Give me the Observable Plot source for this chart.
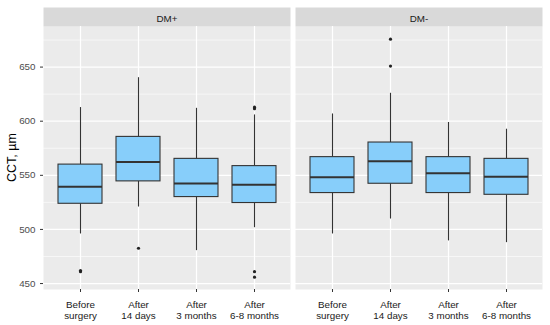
<!DOCTYPE html>
<html>
<head>
<meta charset="utf-8">
<script src="https://cdn.jsdelivr.net/npm/d3@7"></script>
<script src="https://cdn.jsdelivr.net/npm/@observablehq/plot@0.6"></script>
<style>
  html, body { margin: 0; padding: 0; background: white; }
</style>
</head>
<body>
<div id="chart"></div>
<script>
// ---- Data ----
const facets = ["DM+", "DM-"];
const categories = ["Before surgery", "After 14 days", "After 3 months", "After 6-8 months"];
const tickLabels = ["Before\nsurgery", "After\n14 days", "After\n3 months", "After\n6-8 months"];
const yTicks = [450, 500, 550, 600, 650];
const yMinorTicks = [475, 525, 575, 625, 675];

// Box statistics per facet, in category order
const dmPlusLow    = [495.8, 520.7, 480.4, 501.6];
const dmPlusQ1     = [523.7, 544.4, 529.9, 524.4];
const dmPlusMedian = [539.5, 562.4, 542.5, 541.2];
const dmPlusQ3     = [559.9, 585.5, 565.2, 558.5];
const dmPlusHigh   = [612.6, 640.2, 611.9, 605.8];

const dmMinusLow    = [495.8, 509.6, 489.4, 487.8];
const dmMinusQ1     = [533.6, 542.2, 533.6, 532.0];
const dmMinusMedian = [548.3, 563.1, 551.8, 548.6];
const dmMinusQ3     = [566.8, 580.3, 566.8, 565.2];
const dmMinusHigh   = [606.7, 625.8, 598.8, 592.6];

// Outliers: [facet, category index, value]
const outlierFacet = ["DM+", "DM+", "DM+", "DM+", "DM+", "DM+", "DM+", "DM-", "DM-"];
const outlierCat   = [0, 0, 1, 3, 3, 3, 3, 1, 1];
const outlierValue = [461, 462, 482.6, 611.5, 613, 461, 455.9, 675.8, 650.9];

// ---- Build tables ----
const boxes = [];
categories.forEach((c, i) => {
  boxes.push({facet: "DM+", cat: c, low: dmPlusLow[i], q1: dmPlusQ1[i], med: dmPlusMedian[i], q3: dmPlusQ3[i], high: dmPlusHigh[i]});
});
categories.forEach((c, i) => {
  boxes.push({facet: "DM-", cat: c, low: dmMinusLow[i], q1: dmMinusQ1[i], med: dmMinusMedian[i], q3: dmMinusQ3[i], high: dmMinusHigh[i]});
});
const outliers = outlierValue.map((v, i) => ({facet: outlierFacet[i], cat: categories[outlierCat[i]], value: v}));

const H = 325, mTop = 26, mBottom = 36;
const innerH = H - mTop - mBottom;

const chart = Plot.plot({
  width: 550,
  height: H,
  marginLeft: 43,
  marginRight: 8,
  marginTop: mTop,
  marginBottom: mBottom,
  style: {fontFamily: "Liberation Sans, Arial, sans-serif", background: "white", overflow: "visible"},
  fx: {domain: facets, paddingInner: 5 / 252, paddingOuter: 0, label: null},
  x: {domain: categories, paddingInner: 0.25, paddingOuter: 0.225, label: null},
  y: {domain: [444.5, 687.5], label: null},
  marks: [
    Plot.frame({fill: "#EBEBEB", stroke: null}),
    Plot.frame({fill: "#D9D9D9", stroke: null, insetTop: -19, insetBottom: innerH}),
    Plot.gridY(yMinorTicks, {stroke: "white", strokeOpacity: 1, strokeWidth: 0.6}),
    Plot.gridY(yTicks, {stroke: "white", strokeOpacity: 1, strokeWidth: 1.2}),
    Plot.gridX({stroke: "white", strokeOpacity: 1, strokeWidth: 1.2}),
    Plot.axisFx({anchor: "top", tickSize: 0, tickPadding: 5, fontSize: 9.8, fill: "#1A1A1A", label: null}),
    Plot.axisY(yTicks, {tickSize: 3, tickPadding: 5, fontSize: 9.8, fill: "#4D4D4D", stroke: "#333333", label: null}),
    Plot.axisX({tickSize: 3, tickPadding: 8, fontSize: 9.8, fill: "#1A1A1A", stroke: "#333333", lineHeight: 1.12,
                tickFormat: d => tickLabels[categories.indexOf(d)], label: null}),
    Plot.ruleX(boxes, {fx: "facet", x: "cat", y1: "low", y2: "q1", stroke: "#333333", strokeWidth: 1.1}),
    Plot.ruleX(boxes, {fx: "facet", x: "cat", y1: "q3", y2: "high", stroke: "#333333", strokeWidth: 1.1}),
    Plot.barY(boxes, {fx: "facet", x: "cat", y1: "q1", y2: "q3", fill: "#87CEFA", stroke: "#333333", strokeWidth: 1.1}),
    Plot.tickY(boxes, {fx: "facet", x: "cat", y: "med", stroke: "#333333", strokeWidth: 2}),
    Plot.dot(outliers, {fx: "facet", x: "cat", y: "value", r: 1.6, fill: "#222222", stroke: null})
  ]
});
document.getElementById("chart").appendChild(chart);

// y-axis title
const svg = d3.select(chart);
svg.append("text")
  .attr("transform", `translate(13, ${mTop + innerH / 2}) rotate(-90)`)
  .attr("text-anchor", "middle")
  .attr("dominant-baseline", "middle")
  .attr("font-size", 12.5)
  .attr("fill", "black")
  .attr("font-family", "Liberation Sans, Arial, sans-serif")
  .text("CCT, µm");
</script>
</body>
</html>
